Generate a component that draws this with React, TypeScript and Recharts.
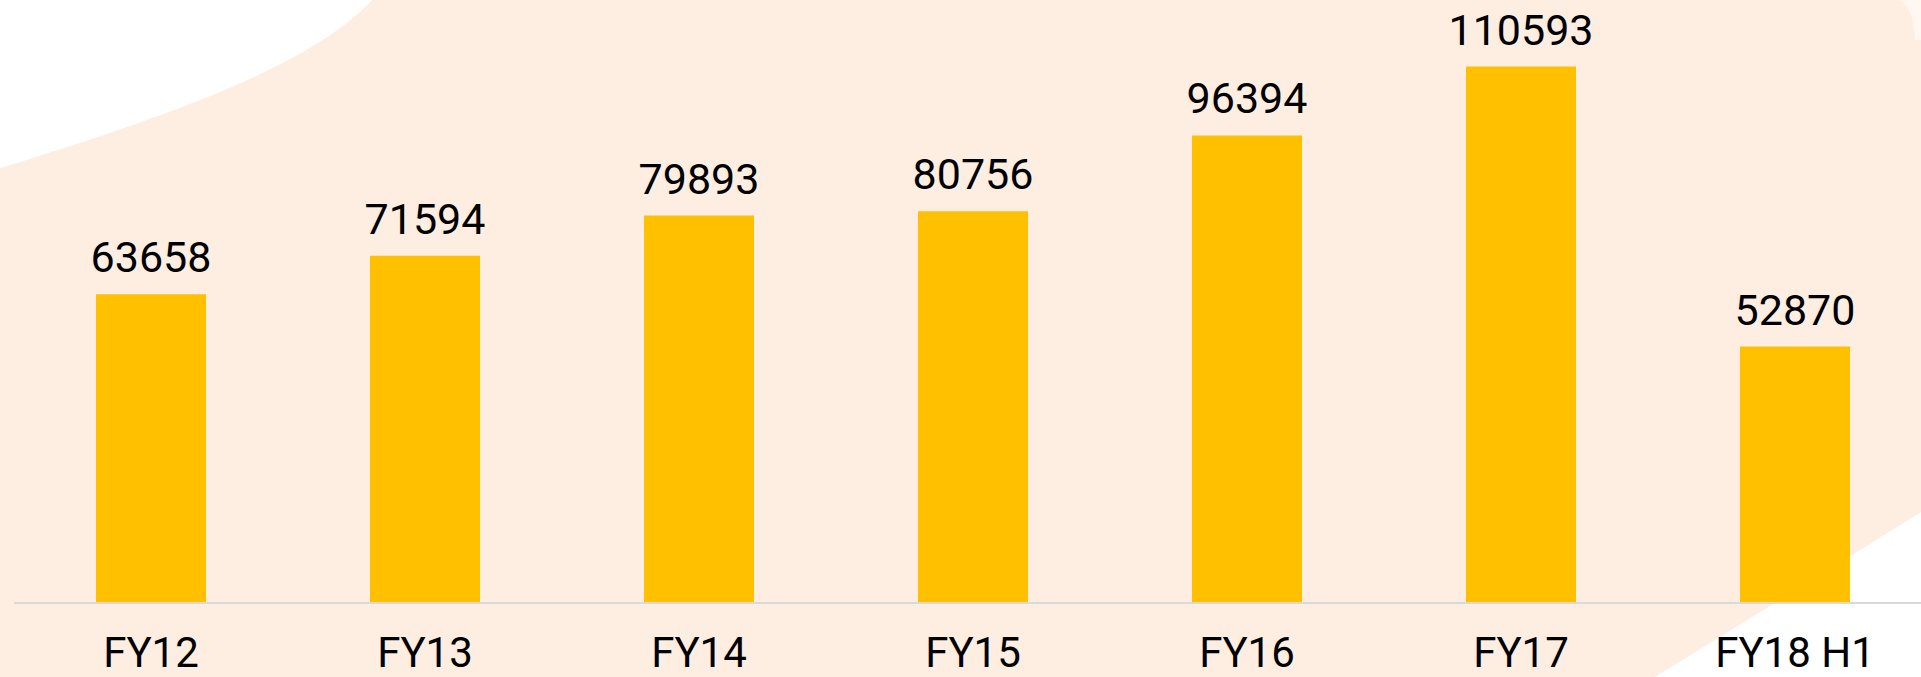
import { Bar, BarChart, LabelList, XAxis, YAxis } from "recharts";

const categories = ["FY12", "FY13", "FY14", "FY15", "FY16", "FY17", "FY18 H1"];
const values = [63658, 71594, 79893, 80756, 96394, 110593, 52870];

const data = categories.map((name, i) => ({ name, value: values[i] }));

const FONT = "Roboto, 'Open Sans', sans-serif";

// soft peach backdrop with white corners, like the slide it came from
function Backdrop() {
  return (
    <svg
      width={1921}
      height={677}
      style={{ position: "absolute", left: 0, top: 0 }}
    >
      <rect x={0} y={0} width={1921} height={677} fill="#fdeee1" />
      <path d="M0,0 L0,168 C150,122 310,68 372,0 Z" fill="#ffffff" />
      <path d="M1655,677 Q1780,600 1921,512 L1921,677 Z" fill="#ffffff" />
      <path d="M1898,0 Q1913,4 1915,40 L1921,40 L1921,0 Z" fill="#fff7f0" />
    </svg>
  );
}

export default function App() {
  return (
    <div
      style={{
        position: "absolute",
        left: 0,
        top: 0,
        width: 1921,
        height: 677,
        overflow: "hidden",
        fontFamily: FONT,
      }}
    >
      <Backdrop />
      <div style={{ position: "absolute", left: 0, top: 0 }}>
        <BarChart
          width={1940}
          height={677}
          data={data}
          margin={{ top: 21, right: 8, left: 14, bottom: 0 }}
        >
          <XAxis
            dataKey="name"
            interval={0}
            height={74}
            tickLine={false}
            tickSize={0}
            tickMargin={34}
            axisLine={{ stroke: "#d9d9d9", strokeWidth: 2 }}
            tick={{ fill: "#000000", fontSize: 42, fontFamily: FONT }}
          />
          <YAxis hide domain={[0, 120000]} />
          <Bar
            dataKey="value"
            fill="#ffc000"
            barSize={110}
            isAnimationActive={false}
          >
            <LabelList
              dataKey="value"
              position="top"
              offset={22}
              fill="#000000"
              fontSize={43}
              fontFamily={FONT}
            />
          </Bar>
        </BarChart>
      </div>
    </div>
  );
}
